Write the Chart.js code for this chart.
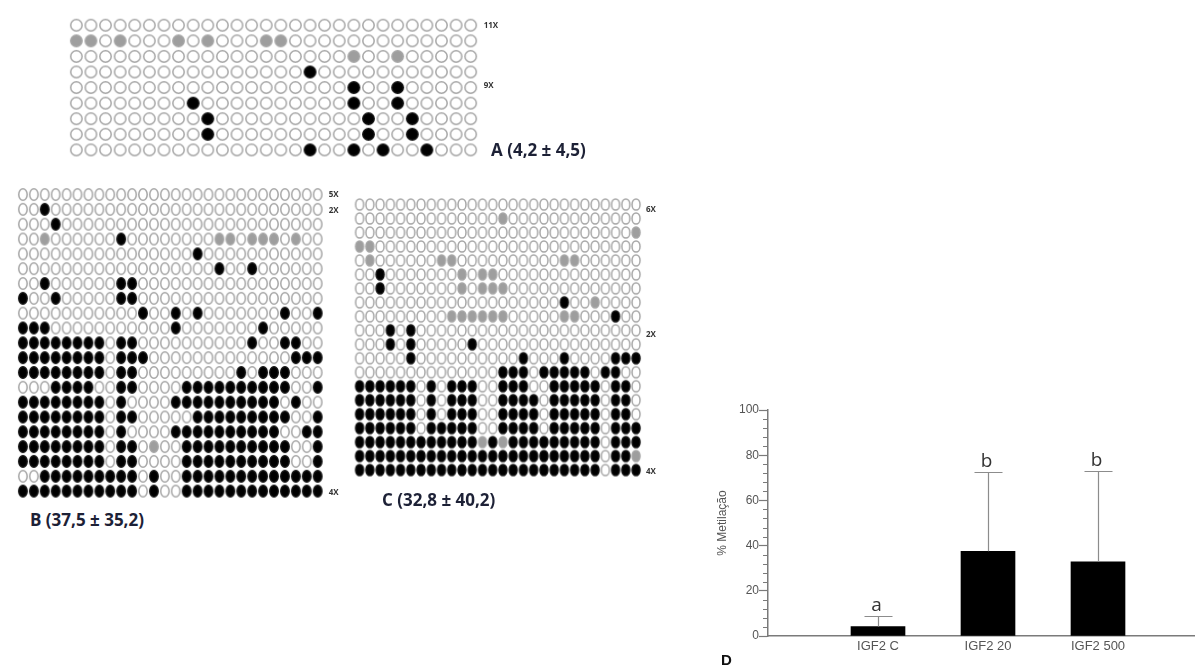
<!DOCTYPE html>
<html>
<head>
<meta charset="utf-8">
<title>Metilação IGF2</title>
<script src="https://cdn.jsdelivr.net/npm/chart.js@4.4.1/dist/chart.umd.min.js"></script>
<style>
  html, body { margin: 0; padding: 0; background: #fff; }
  body { width: 1195px; height: 666px; position: relative; overflow: hidden; font-family: 'Open Sans', sans-serif; }
  .box { position: absolute; }
  .cap { position: absolute; font-weight: 700; font-size: 17px; line-height: 20px; color: #1d2136; white-space: nowrap; }
</style>
</head>
<body>
<div class="box" id="boxA"><canvas id="gridA"></canvas></div>
<div class="box" id="boxB"><canvas id="gridB"></canvas></div>
<div class="box" id="boxC"><canvas id="gridC"></canvas></div>
<div class="box" id="boxD" style="left:700px; top:395px; width:495px; height:271px"><canvas id="barras"></canvas></div>

<div class="cap" style="left:491px; top:140px">A (4,2 ± 4,5)</div>
<div class="cap" style="left:30px; top:510px">B (37,5 ± 35,2)</div>
<div class="cap" style="left:382px; top:490px">C (32,8 ± 40,2)</div>
<div class="cap" style="left:721px; top:650px; font-family:'Liberation Sans'; font-size:15px; color:#111">D</div>

<script>
// o = não metilado, x = metilado, g = parcial (cinza). 28 CpG por clone, em blocos de 7
const clonesA = [
  'ooooooo ooooooo ooooooo ooooooo',
  'ggogooo gogooog goooooo ooooooo',
  'ooooooo ooooooo ooooogo ogooooo',
  'ooooooo ooooooo ooxoooo ooooooo',
  'ooooooo ooooooo oooooxo oxooooo',
  'ooooooo oxooooo oooooxo oxooooo',
  'ooooooo ooxoooo oooooox ooxoooo',
  'ooooooo ooxoooo oooooox ooxoooo',
  'ooooooo ooooooo ooxooxo xooxooo'
];

const clonesB = [
  'ooooooo ooooooo ooooooo ooooooo',
  'ooxoooo ooooooo ooooooo ooooooo',
  'oooxooo ooooooo ooooooo ooooooo',
  'oogoooo ooxoooo ooooggo gggogoo',
  'ooooooo ooooooo ooxoooo ooooooo',
  'ooooooo ooooooo ooooxoo xoooooo',
  'ooxoooo ooxxooo ooooooo ooooooo',
  'xooxooo ooxxooo ooooooo ooooooo',
  'ooooooo ooooxoo xoxoooo oooxoox',
  'xxxoooo ooooooo xoooooo oxooooo',
  'xxxxxxx xoxxooo ooooooo xooxxoo',
  'xxxxxxx xoxxxoo ooooooo ooooxxx',
  'xxxxxxx xoxxooo oooooox oxxxooo',
  'oooxxxx ooxxooo oxxxxxx xxxxoox',
  'xxxxxxx xoxoooo xxxxxxx xxxoxoo',
  'xxxxxxx xoxxooo ooxxxxx xxxxoox',
  'xxxxxxx xoxoooo xxxxxxx xxxooxx',
  'xxxxxxx xoxxogo oxxxxxx xxxxoox',
  'xxxxxxx xoxxooo oxxxxxx xxxxoox',
  'ooxxxxx xxxxoxo oxxxxxx xxxxxxx',
  'xxxxxxx xxxxoxo oxxxxxx xxxxxxx'
];

const clonesC = [
  'ooooooo ooooooo ooooooo ooooooo',
  'ooooooo ooooooo goooooo ooooooo',
  'ooooooo ooooooo ooooooo oooooog',
  'ggooooo ooooooo ooooooo ooooooo',
  'ogooooo oggoooo oooooog goooooo',
  'ooxoooo ooogogg ooooooo ooooooo',
  'ooxoooo ooogogg goooooo ooooooo',
  'ooooooo ooooooo oooooox oogoooo',
  'ooooooo ooggggg gooooog goooxoo',
  'oooxoxo ooooooo ooooooo ooooooo',
  'oooxoxo ooooxoo ooooooo ooooooo',
  'oooooxo ooooooo ooxooox ooooxxx',
  'ooooooo ooooooo xxxoxxx xxoxxoo',
  'xxxxxxo xoxxxoo xxxooxx xxxoxxo',
  'xxxxxxo xoxxxoo xxxxoxx xxxoxxo',
  'xxxxxxo xoxxxoo xxxxoxx xxxoxxo',
  'xxxxxxo xxxxxoo xxxxoxx xxxoxxx',
  'xxxxxxx xxxxxgx gxxxxxx xxxoxxx',
  'xxxxxxx xxxxxxx xxxxxxx xxxoxxg',
  'xxxxxxx xxxxxxx xxxxxxx xxxoxxx'
];

// número de clones (rótulos à direita) e linha onde aparecem
const repA = [['11X', 0], ['9X', 3.85]];
const repB = [['5X', 0], ['2X', 1.1], ['4X', 20.1]];
const repC = [['6X', 0.35], ['2X', 9.3], ['4X', 19.1]];

// painel D
const grupos = ['IGF2 C', 'IGF2 20', 'IGF2 500'];
const posGrupos = [1, 2, 3];
const mediaMetil = [4.2, 37.5, 32.8];
const dpMetil = [4.5, 35.2, 40.2];
const letras = ['a', 'b', 'b'];
const ticksY = [0, 20, 40, 60, 80, 100];

Chart.defaults.animation = false;
Chart.defaults.font.family = "'Liberation Sans', Arial, sans-serif";

function fazPonto(w, h, fill, stroke) {
  const c = document.createElement('canvas');
  c.width = Math.ceil(w + 2);
  c.height = Math.ceil(h + 2);
  const g = c.getContext('2d');
  g.beginPath();
  g.ellipse(c.width / 2, c.height / 2, w / 2 - 0.7, h / 2 - 0.7, 0, 0, Math.PI * 2);
  g.fillStyle = fill;
  g.fill();
  g.lineWidth = 1.5;
  g.strokeStyle = stroke;
  g.stroke();
  return c;
}

const rotulosClones = {
  id: 'rotulosClones',
  afterDraw(chart, args, opts) {
    const { ctx, scales: { x, y } } = chart;
    ctx.save();
    ctx.font = "bold 8px 'Open Sans'";
    ctx.fillStyle = '#333';
    ctx.textAlign = 'left';
    ctx.textBaseline = 'middle';
    opts.items.forEach(([txt, row]) => {
      ctx.fillText(txt, x.getPixelForValue(27) + opts.dx, y.getPixelForValue(row));
    });
    ctx.restore();
  }
};

function desenhaGrade(id, boxId, linhas, reps, geo) {
  const rows = linhas.map(r => r.replace(/ /g, ''));
  const nR = rows.length;
  const L = Math.round(geo.x0 - geo.dx * 1.2);
  const T = Math.round(geo.y0 - geo.dy);
  const W = Math.round(geo.dx * (27 + 1.2) + geo.extra);
  const H = Math.round(geo.dy * (nR + 0.2));
  const box = document.getElementById(boxId);
  box.style.left = L + 'px';
  box.style.top = T + 'px';
  const cv = document.getElementById(id);
  cv.width = W; cv.height = H;
  cv.style.width = W + 'px'; cv.style.height = H + 'px';

  const xmin = -(geo.x0 - L) / geo.dx;
  const ymin = -(geo.y0 - T) / geo.dy;

  const tipos = {
    o: { fill: '#ffffff', stroke: '#a6a6a6' },
    x: { fill: '#000000', stroke: '#111111' },
    g: { fill: '#9e9e9e', stroke: '#a6a6a6' }
  };
  const datasets = Object.keys(tipos).map(k => {
    const pts = [];
    rows.forEach((r, i) => {
      for (let j = 0; j < r.length; j++) if (r[j] === k) pts.push({ x: j, y: i });
    });
    return {
      data: pts,
      pointStyle: fazPonto(geo.w, geo.h, tipos[k].fill, tipos[k].stroke),
      showLine: false,
      clip: false
    };
  });

  new Chart(cv, {
    type: 'scatter',
    data: { datasets },
    options: {
      responsive: false,
      events: [],
      layout: { padding: 0 },
      plugins: {
        legend: { display: false },
        tooltip: { enabled: false },
        rotulosClones: { items: reps, dx: geo.labDx }
      },
      scales: {
        x: { type: 'linear', display: false, min: xmin, max: xmin + W / geo.dx },
        y: { type: 'linear', display: false, reverse: true, min: ymin, max: ymin + H / geo.dy }
      }
    },
    plugins: [rotulosClones]
  });
}

desenhaGrade('gridA', 'boxA', clonesA, repA,
  { x0: 71.7, dx: 14.93, y0: 21.3, dy: 16.67, w: 12.8, h: 12.8, extra: 40, labDx: 13 });
desenhaGrade('gridB', 'boxB', clonesB, repB,
  { x0: 18.3, dx: 11.24, y0: 190, dy: 15.3, w: 9.8, h: 13, extra: 30, labDx: 11 });
desenhaGrade('gridC', 'boxC', clonesC, repC,
  { x0: 355, dx: 10.56, y0: 200, dy: 14.47, w: 9.4, h: 12.6, extra: 30, labDx: 10 });

// ----- painel D: barras com desvio padrão -----
const barrasErro = {
  id: 'barrasErro',
  afterDatasetsDraw(chart) {
    const { ctx, scales: { x, y }, chartArea } = chart;
    ctx.save();
    // ticks menores do eixo y
    ctx.strokeStyle = '#7a7a7a';
    ctx.lineWidth = 1.2;
    ctx.beginPath();
    for (let v = 4; v < 100; v += 4) {
      if (v % 20 === 0) continue;
      const py = Math.round(y.getPixelForValue(v)) + 0.5;
      ctx.moveTo(chartArea.left - 5, py);
      ctx.lineTo(chartArea.left, py);
    }
    ctx.stroke();

    ctx.strokeStyle = '#8c8c8c';
    ctx.lineWidth = 1.2;
    mediaMetil.forEach((m, i) => {
      const px = Math.round(x.getPixelForValue(posGrupos[i])) + 0.5;
      const topo = Math.round(y.getPixelForValue(m + dpMetil[i])) + 0.5;
      const base = y.getPixelForValue(m);
      ctx.beginPath();
      ctx.moveTo(px, base);
      ctx.lineTo(px, topo);
      ctx.moveTo(px - 14, topo);
      ctx.lineTo(px + 14, topo);
      ctx.stroke();
      ctx.fillStyle = '#333';
      ctx.font = "19px 'Open Sans'";
      ctx.textAlign = 'center';
      ctx.textBaseline = 'alphabetic';
      ctx.fillText(letras[i], px - 2, topo - 6);
    });
    ctx.restore();
  }
};

new Chart(document.getElementById('barras'), {
  type: 'bar',
  data: {
    datasets: [{
      data: mediaMetil.map((v, i) => ({ x: posGrupos[i], y: v })),
      backgroundColor: '#000',
      borderWidth: 0,
      barThickness: 54
    }]
  },
  options: {
    responsive: true,
    maintainAspectRatio: false,
    events: [],
    layout: { padding: { top: 15, left: 0, right: 0, bottom: 0 } },
    plugins: { legend: { display: false }, tooltip: { enabled: false } },
    scales: {
      x: {
        type: 'linear',
        offset: false,
        min: 0,
        max: 427 / 110,
        afterBuildTicks: s => { s.ticks = posGrupos.map(v => ({ value: v })); },
        afterFit: s => { s.height = 30; },
        ticks: {
          callback: (v) => grupos[posGrupos.indexOf(v)] ?? '',
          color: '#555',
          font: { size: 13 },
          padding: 3,
          maxRotation: 0,
          autoSkip: false
        },
        grid: { display: true, offset: false, drawOnChartArea: false, drawTicks: false },
        border: { display: true, color: '#7a7a7a', width: 1.5 }
      },
      y: {
        min: 0,
        max: 100,
        afterBuildTicks: s => { s.ticks = ticksY.map(v => ({ value: v })); },
        afterFit: s => { s.width = 68; },
        ticks: { color: '#555', font: { size: 12 }, padding: 0 },
        grid: { drawOnChartArea: false, drawTicks: true, tickLength: 9, color: '#7a7a7a', tickWidth: 1.2 },
        border: { display: true, color: '#7a7a7a', width: 1.5 },
        title: {
          display: true,
          text: '% Metilação',
          color: '#555',
          font: { size: 12 },
          padding: { top: 15, bottom: 0 }
        }
      }
    }
  },
  plugins: [barrasErro]
});
</script>
</body>
</html>
